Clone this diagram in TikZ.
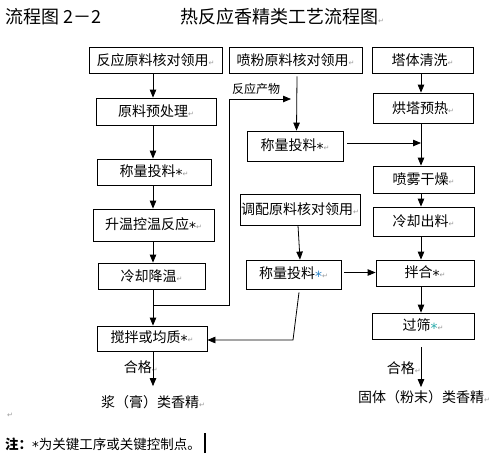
\documentclass[tikz,border=0pt]{standalone}
\usepackage{fontspec}
\setmainfont{Noto Sans CJK SC}
\newfontfamily\djv{DejaVu Sans}
\usetikzlibrary{arrows.meta}
\newcommand\retm{{\djv\fontsize{7}{7}\selectfont\color{gray!80}↵}}
\newcommand\akk{\raisebox{-0.22em}{\djv *}}
\definecolor{astA}{RGB}{40,130,200}
\definecolor{astB}{RGB}{40,170,170}
\begin{document}
\begin{tikzpicture}[x=1pt,y=-1pt,
  box/.style={draw,line width=0.8pt,inner sep=0pt,font=\fontsize{14}{14}\selectfont},
  arr/.style={line width=0.8pt,-{Triangle[length=8pt,width=6.5pt]}},
  ln/.style={line width=0.8pt},
  txt/.style={inner sep=0pt,font=\fontsize{14}{14}\selectfont},
  small/.style={inner sep=0pt,font=\fontsize{12}{12}\selectfont}]
\useasboundingbox[fill=white] (0,0) rectangle (492,459);
% titles
\node[inner sep=0pt,anchor=west,font=\fontsize{18}{18}\selectfont] (ttl1) at (5,17) {流程图 2－2};
\node[inner sep=0pt,anchor=west,font=\fontsize{18}{18}\selectfont] (ttl2) at (180,17) {热反应香精类工艺流程图\retm};
% left column
\node[box,minimum width=133pt,minimum height=26pt] (r1) at (155.5,60) {反应原料核对领用\retm};
\node[box,minimum width=120pt,minimum height=27pt] (r2) at (156,111.5) {原料预处理\retm};
\node[box,minimum width=114pt,minimum height=26pt] (r3) at (154,172) {称量投料\akk\retm};
\node[box,minimum width=121pt,minimum height=32pt] (r4) at (153.5,225) {升温控温反应\akk\retm};
\node[box,minimum width=107pt,minimum height=26pt] (r5) at (151.5,276) {冷却降温\retm};
\node[box,minimum width=110pt,minimum height=25pt] (r6) at (152,338.5) {搅拌或均质\akk\retm};
\node[txt] (o1) at (153,402) {浆（膏）类香精\retm};
\node[txt,anchor=east] (ok1) at (158,367) {合格\retm};
% middle column
\node[box,minimum width=133pt,minimum height=26pt] (p1) at (295.5,60) {喷粉原料核对领用\retm};
\node[box,minimum width=96pt,minimum height=30pt] (p2) at (295,146) {称量投料\akk\retm};
\node[box,minimum width=120pt,minimum height=31pt] (q1) at (300,209.5) {调配原料核对领用\retm};
\node[box,minimum width=95pt,minimum height=29pt] (q2) at (293.5,274.5) {称量投料\textcolor{astA}{\akk}\retm};
\node[small] (rp) at (256,89) {反应产物};
% right column
\node[box,minimum width=101pt,minimum height=26pt] (t1) at (422.5,60) {塔体清洗\retm};
\node[box,minimum width=100pt,minimum height=30pt] (t2) at (423,108) {烘塔预热\retm};
\node[box,minimum width=101pt,minimum height=27pt] (t3) at (423.5,179.5) {喷雾干燥\retm};
\node[box,minimum width=101pt,minimum height=29pt] (t4) at (423.5,221.5) {冷却出料\retm};
\node[box,minimum width=98pt,minimum height=26pt] (t5) at (425,273) {拌合\akk\retm};
\node[box,minimum width=102pt,minimum height=26pt] (t6) at (423,326) {过筛\textcolor{astB}{\akk}\retm};
\node[txt,anchor=east] (ok2) at (421,368) {合格\retm};
\node[txt] (o2) at (424,397) {固体（粉末）类香精\retm};
% note
\node[inner sep=0pt,anchor=west] (nl) at (7,415) {\retm};
\node[inner sep=0pt,anchor=west,font=\fontsize{13.5}{13.5}\selectfont] (note) at (5,443) {\textbf{注：}\akk 为关键工序或关键控制点。\hspace{3pt}\rule[-4pt]{2pt}{20pt}};
% helper coordinates
\coordinate (lx) at (153,0);
\coordinate (tx) at (421,0);
\coordinate (c1) at (229,305);
\coordinate (c2) at (229,99);
\coordinate (c3) at (291,99);
\coordinate (k) at (293,340);
% left connectors
\draw[arr] (r1.south -| lx) -- (r2.north -| lx);
\draw[arr] (r2.south -| lx) -- (r3.north -| lx);
\draw[arr] (r3.south -| lx) -- (r4.north -| lx);
\draw[arr] (r4.south -| lx) -- (r5.north -| lx);
\draw[arr] (r5.south -| lx) -- (r6.north -| lx);
\draw[arr,shorten >=9pt] (r6.south -| lx) -- (o1.north -| lx);
% reaction product
\draw[ln] (lx |- c1) -- (c1) -- (c2);
\draw[arr] (c2) -- (c3);
% middle connectors
\draw[arr] ([xshift=1.5pt,yshift=-3pt]p1.south) -- ([xshift=1.5pt]p2.north);
\draw[arr] ([xshift=4pt,yshift=3pt]p2.east) -- ([yshift=3pt]p2.east -| tx);
\draw[arr] ([xshift=-2pt]q1.south) -- (q1.south |- q2.north);
\draw[arr] ([xshift=3pt,yshift=2pt]q2.east) -- ([yshift=2pt]q2.east -| t5.west);
\draw[arr] ([xshift=5.5pt,yshift=-3pt]q2.south) -- (k) -- (k -| r6.east);
% right connectors
\draw[arr] (t1.south -| tx) -- (t2.north -| tx);
\draw[arr] (t2.south -| tx) -- (t3.north -| tx);
\draw[arr] (t3.south -| tx) -- (t4.north -| tx);
\draw[arr] (t4.south -| tx) -- (t5.north -| tx);
\draw[arr] (t5.south -| tx) -- (t6.north -| tx);
\draw[arr,shorten >=3pt] ([yshift=-8pt]t6.south -| tx) -- (o2.north -| tx);
\end{tikzpicture}
\end{document}
